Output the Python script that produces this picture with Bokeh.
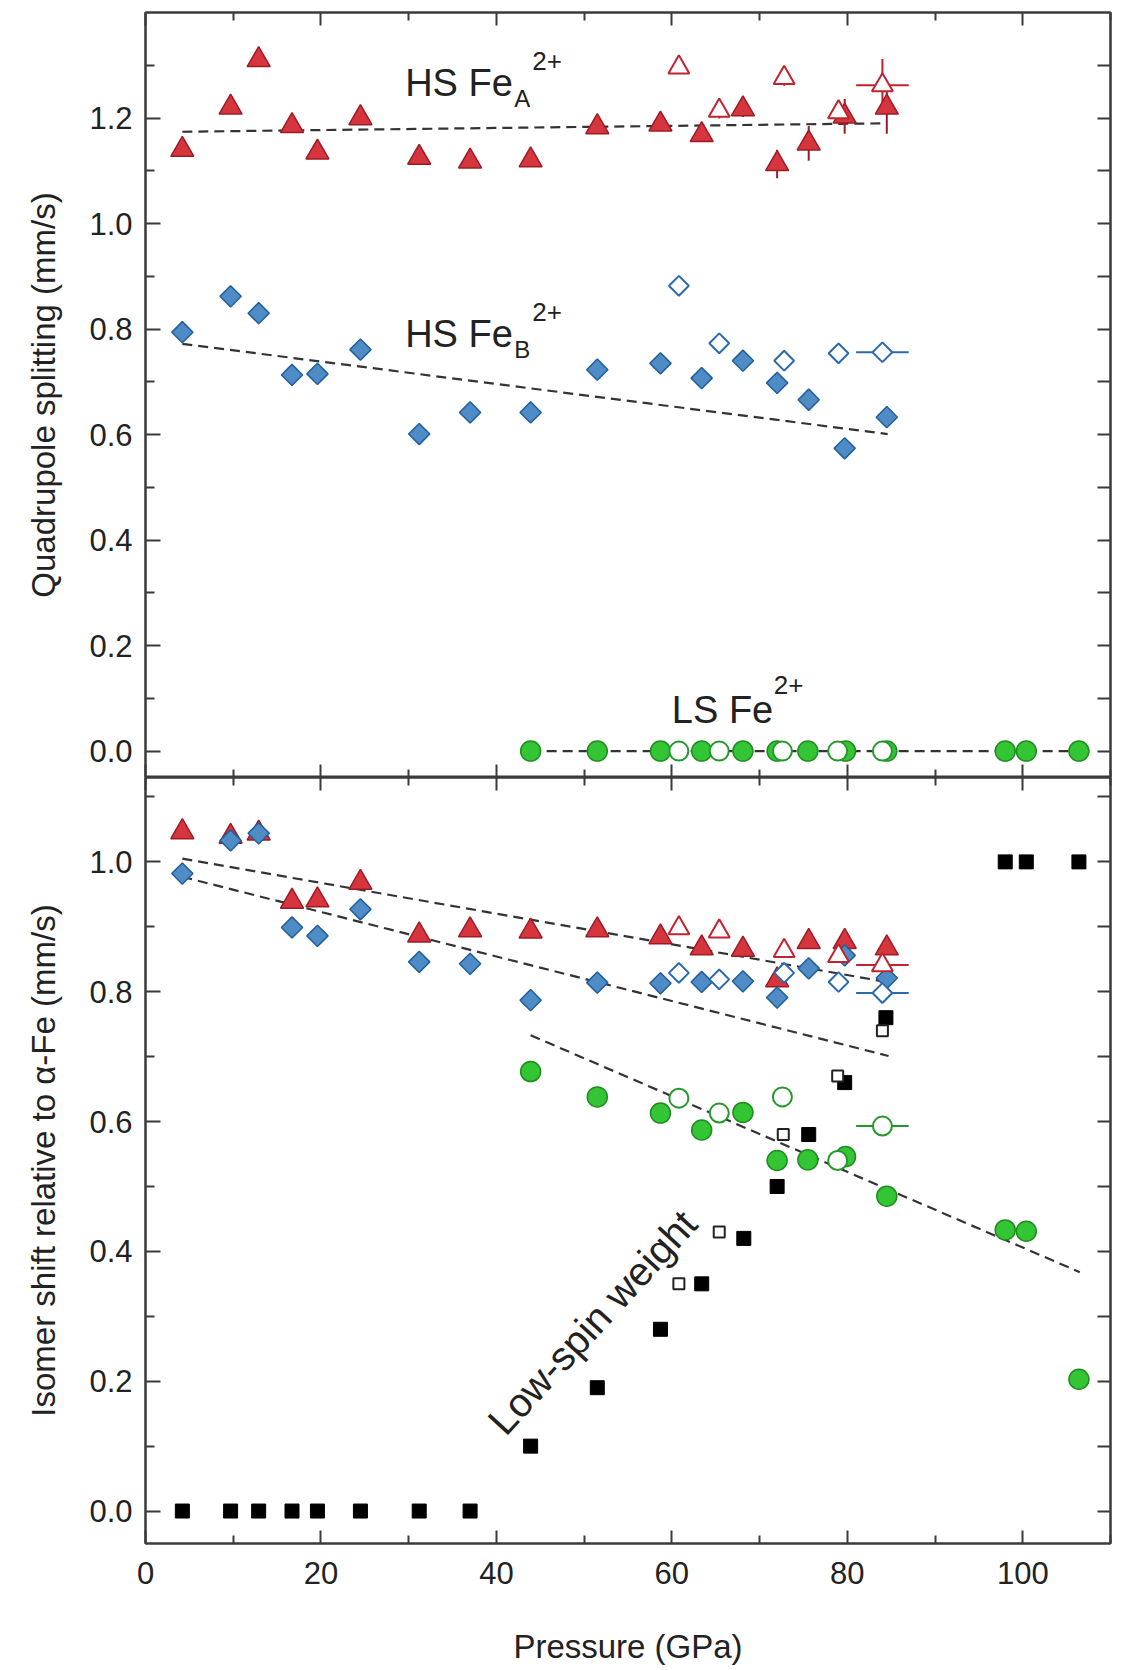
import numpy as np
from bokeh.plotting import figure
from bokeh.models import LinearAxis, FixedTicker, Range1d, Label, PrintfTickFormatter
from bokeh.layouts import column
from bokeh.embed import file_html
from bokeh.resources import INLINE

# ---------------- data ----------------
# pressures (GPa) of the high-spin sites (filled symbols)
p_hs = [4.2, 9.7, 12.9, 16.7, 19.6, 24.5, 31.2, 37.0, 43.9, 51.5, 58.7, 63.4, 68.1, 72.0, 75.6, 79.7, 84.5]
# pressures of the second data set (open symbols)
p_open = [60.8, 65.4, 72.8, 79.0, 84.0]
open_xerr = [0, 0, 0, 0, 3.0]

# quadrupole splitting, HS Fe_A (triangles)
qs_A = [1.140, 1.220, 1.310, 1.185, 1.135, 1.200, 1.125, 1.118, 1.120, 1.183, 1.188, 1.168, 1.217, 1.113, 1.152, 1.203, 1.220]
qs_A_err = [0, 0, 0, 0, 0, 0, 0, 0, 0, 0, 0, 0, 0.015, 0.027, 0.033, 0.033, 0.050]
qs_A_open = [1.296, 1.214, 1.276, 1.211, 1.262]
qs_A_open_err = [0.008, 0.015, 0.015, 0.0, 0.050]
# quadrupole splitting, HS Fe_B (diamonds)
qs_B = [0.794, 0.862, 0.830, 0.713, 0.715, 0.761, 0.601, 0.642, 0.642, 0.723, 0.735, 0.707, 0.740, 0.698, 0.666, 0.574, 0.633]
qs_B_open = [0.882, 0.773, 0.740, 0.754, 0.756]
# low-spin Fe2+ (circles)
p_ls = [43.9, 51.5, 58.7, 63.4, 68.1, 72.0, 75.5, 79.8, 84.5, 98.0, 100.4, 106.4]
p_ls_open = [60.8, 65.4, 72.6, 78.9, 84.0]
qs_LS = [0, 0, 0, 0, 0, 0, 0, 0, 0, 0, 0, 0]
qs_LS_open = [0, 0, 0, 0, 0]

# isomer shift relative to alpha-Fe
is_A = [1.046, 1.039, 1.044, 0.939, 0.941, 0.968, 0.887, 0.895, 0.893, 0.895, 0.884, 0.867, 0.865, 0.818, 0.877, 0.877, 0.867]
is_A_open = [0.898, 0.893, 0.863, 0.855, 0.841]
is_B = [0.982, 1.033, 1.044, 0.899, 0.886, 0.927, 0.846, 0.843, 0.787, 0.814, 0.813, 0.815, 0.816, 0.791, 0.836, 0.856, 0.821]
is_B_open = [0.829, 0.819, 0.829, 0.815, 0.798]
is_LS = [0.677, 0.638, 0.613, 0.587, 0.614, 0.540, 0.541, 0.546, 0.485, 0.433, 0.431, 0.203]
is_LS_open = [0.636, 0.613, 0.638, 0.540, 0.593]

# low-spin weight (squares)
p_w = [4.2, 9.7, 12.9, 16.7, 19.6, 24.5, 31.2, 37.0, 43.9, 51.5, 58.7, 63.4, 68.2, 72.0, 75.6, 79.7, 84.4, 98.0, 100.4, 106.4]
ls_weight = [0, 0, 0, 0, 0, 0, 0, 0, 0.10, 0.19, 0.28, 0.35, 0.42, 0.50, 0.58, 0.66, 0.76, 1.0, 1.0, 1.0]
p_w_open = [60.8, 65.4, 72.7, 78.9, 84.0]
ls_weight_open = [0.35, 0.43, 0.58, 0.67, 0.74]

# dashed linear trends (end points)
fit_qs_A = ([4.2, 84.4], [1.174, 1.190])
fit_qs_B = ([4.2, 84.6], [0.772, 0.601])
fit_qs_LS = ([43.9, 106.4], [0.0, 0.0])
fit_is_A = ([4.2, 84.5], [1.005, 0.815])
fit_is_B = ([4.2, 84.7], [0.977, 0.701])
fit_is_LS = ([43.9, 106.5], [0.733, 0.368])

x_major = [0, 20, 40, 60, 80, 100]
x_minor = [10, 30, 50, 70, 90, 110]

# ---------------- styles ----------------
FONT = "Liberation Sans"
AX = "#3a3a3a"
RED_F, RED_L = "#d6353e", "#9c1c26"
BLU_F, BLU_L = "#4f8cc6", "#205f9c"
GRN_F, GRN_L = "#34c534", "#1f8c20"
RED_O, BLU_O, GRN_O = "#c2232e", "#2a6aad", "#24982a"


def base_fig(height, yr, top, bottom):
    p = figure(width=1121, height=height, x_range=Range1d(0, 110), y_range=Range1d(*yr),
               x_axis_type=None, y_axis_type=None, toolbar_location=None,
               output_backend="svg", min_border_left=145, min_border_right=11,
               min_border_top=top, min_border_bottom=bottom)
    p.outline_line_color = AX
    p.outline_line_width = 2
    p.background_fill_color = "white"
    p.border_fill_color = "white"
    return p


def add_axis(p, side, ticks, minor, labels=False, tin=14, minin=8, fmt=None, label=None):
    ax = LinearAxis(ticker=FixedTicker(ticks=ticks, minor_ticks=minor))
    ax.major_tick_in = tin
    ax.major_tick_out = 0
    ax.minor_tick_in = minin
    ax.minor_tick_out = 0
    for pre in ("axis_line", "major_tick_line", "minor_tick_line"):
        setattr(ax, pre + "_color", AX)
        setattr(ax, pre + "_width", 2)
    if labels:
        ax.major_label_text_font = FONT
        ax.major_label_text_font_size = "31px"
        ax.major_label_text_color = "#222222"
        if fmt:
            ax.formatter = PrintfTickFormatter(format=fmt)
    else:
        # tick marks only: labels are not painted at all
        ax.major_label_text_color = None
        ax.major_label_standoff = 0
    if label:
        ax.axis_label = label
        ax.axis_label_text_font = FONT
        ax.axis_label_text_font_size = "33px"
        ax.axis_label_text_font_style = "normal"
        ax.axis_label_text_color = "#222222"
    p.add_layout(ax, side)
    return ax


def dashed(p, fit):
    p.line(fit[0], fit[1], line_color="#333333", line_width=2.2, line_dash="10 6")


def errbars(p, x, y, xerr=None, yerr=None, color="black"):
    x = np.asarray(x, float)
    y = np.asarray(y, float)
    if yerr is not None:
        e = np.asarray(yerr, float)
        m = e > 0
        p.segment(x[m], y[m] - e[m], x[m], y[m] + e[m], line_color=color, line_width=2)
    if xerr is not None:
        e = np.asarray(xerr, float)
        m = e > 0
        p.segment(x[m] - e[m], y[m], x[m] + e[m], y[m], line_color=color, line_width=2)


def hs_markers(p, yA, yA_open, yB, yB_open, yA_err=None, yA_open_err=None):
    errbars(p, p_hs, yA, yerr=yA_err, color=RED_L)
    errbars(p, p_open, yA_open, xerr=open_xerr, yerr=yA_open_err, color=RED_O)
    errbars(p, p_open, yB_open, xerr=open_xerr, color=BLU_O)
    p.scatter(p_hs, yA, marker="triangle", size=23, fill_color=RED_F, line_color=RED_L, line_width=1.5)
    p.scatter(p_hs, yB, marker="square", angle=np.pi / 4, size=15, fill_color=BLU_F, line_color=BLU_L, line_width=1.5)
    p.scatter(p_open, yA_open, marker="triangle", size=21, fill_color="white", line_color=RED_O, line_width=2)
    p.scatter(p_open, yB_open, marker="square", angle=np.pi / 4, size=14, fill_color="white", line_color=BLU_O, line_width=2)


# ---------------- top panel: quadrupole splitting ----------------
p1 = base_fig(777, (-0.05, 1.4), 12, 0)
add_axis(p1, "left", [0, 0.2, 0.4, 0.6, 0.8, 1.0, 1.2], [0.1, 0.3, 0.5, 0.7, 0.9, 1.1, 1.3],
         labels=True, tin=15, minin=9, fmt="%.1f", label="Quadrupole splitting (mm/s)")
p1.left[0].major_label_standoff = 13
p1.left[0].axis_label_standoff = 24
add_axis(p1, "right", [round(0.1 * i, 1) for i in range(14)], [], tin=13)
add_axis(p1, "above", x_major, x_minor, tin=13, minin=8)
add_axis(p1, "below", x_major, x_minor, tin=13, minin=8)

dashed(p1, fit_qs_A)
dashed(p1, fit_qs_B)
dashed(p1, fit_qs_LS)
hs_markers(p1, qs_A, qs_A_open, qs_B, qs_B_open, qs_A_err, qs_A_open_err)
p1.scatter(p_ls, qs_LS, marker="circle", size=20, fill_color=GRN_F, line_color=GRN_L, line_width=1.5)
p1.scatter(p_ls_open, qs_LS_open, marker="circle", size=19, fill_color="white", line_color=GRN_O, line_width=2)


def species_label(p, x, y, main, sub=None, sup=None, sub_dx=109, sup_dx=127, sub_dy=-16, sup_dy=22):
    p.add_layout(Label(x=x, y=y, text=main, text_font=FONT, text_font_size="38px",
                       text_color="#222222", text_baseline="alphabetic", text_align="left"))
    if sub:
        p.add_layout(Label(x=x, y=y, x_offset=sub_dx, y_offset=sub_dy, text=sub, text_font=FONT,
                           text_font_size="24px", text_color="#222222", text_baseline="alphabetic"))
    if sup:
        p.add_layout(Label(x=x, y=y, x_offset=sup_dx, y_offset=sup_dy, text=sup, text_font=FONT,
                           text_font_size="26px", text_color="#222222", text_baseline="alphabetic"))


species_label(p1, 29.6, 1.267, "HS Fe", "A", "2+")
species_label(p1, 29.6, 0.791, "HS Fe", "B", "2+")
species_label(p1, 60.0, 0.077, "LS Fe", None, "2+", sup_dx=102, sup_dy=25)

# ---------------- bottom panel: isomer shift ----------------
p2 = base_fig(893, (-0.05, 1.13), 0, 127)
add_axis(p2, "left", [0, 0.2, 0.4, 0.6, 0.8, 1.0], [0.1, 0.3, 0.5, 0.7, 0.9, 1.1],
         labels=True, tin=15, minin=9, fmt="%.1f", label="Isomer shift relative to \u03b1-Fe (mm/s)")
p2.left[0].major_label_standoff = 13
p2.left[0].axis_label_standoff = 24
add_axis(p2, "right", [round(0.1 * i, 1) for i in range(12)], [], tin=13)
add_axis(p2, "above", x_major, x_minor, tin=13, minin=8)
bx = add_axis(p2, "below", x_major, x_minor, labels=True, tin=13, minin=8, label="Pressure (GPa)")
bx.major_label_standoff = 18
bx.axis_label_standoff = 41

dashed(p2, fit_is_A)
dashed(p2, fit_is_B)
dashed(p2, fit_is_LS)
hs_markers(p2, is_A, is_A_open, is_B, is_B_open)
errbars(p2, p_ls_open, is_LS_open, xerr=open_xerr, color=GRN_O)
p2.scatter(p_ls, is_LS, marker="circle", size=20, fill_color=GRN_F, line_color=GRN_L, line_width=1.5)
p2.scatter(p_ls_open, is_LS_open, marker="circle", size=19, fill_color="white", line_color=GRN_O, line_width=2)
p2.scatter(p_w, ls_weight, marker="square", size=14, fill_color="black", line_color="black")
p2.scatter(p_w_open, ls_weight_open, marker="square", size=11, fill_color="white", line_color="#222222", line_width=2)

p2.add_layout(Label(x=39.9, y=0.128, text="Low-spin weight", angle=np.deg2rad(47.5),
                    text_font=FONT, text_font_size="40px", text_color="#222222",
                    text_baseline="alphabetic", text_align="left"))

layout = column(p1, p2, spacing=0)
open("out.html", "w").write(file_html(layout, INLINE))
